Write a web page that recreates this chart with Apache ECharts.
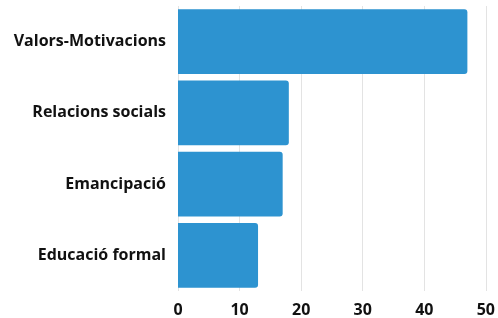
<!DOCTYPE html>
<html>
<head>
<meta charset="utf-8">
<script src="https://cdn.jsdelivr.net/npm/echarts@6/dist/echarts.min.js"></script>
<style>
    html, body { margin: 0; padding: 0; background: #fff; }
    #main { width: 498px; height: 318px; }
</style>
</head>
<body>
<div id="main"></div>
<script>
// 数据
var categories = ['Educació formal', 'Emancipació', 'Relacions socials', 'Valors-Motivacions']
var values = [13, 17, 18, 47]
var xTicks = [0, 10, 20, 30, 40, 50]

var myChart = echarts.init(document.getElementById('main'))

var option = {
    animation: false,
    grid: {
        left: 178,
        right: 10,
        top: 6,
        bottom: 26
    },
    xAxis: {
        type: 'value',
        min: xTicks[0],
        max: xTicks[xTicks.length - 1],
        interval: 10,
        axisLine: { show: false },
        axisTick: { show: false },
        axisLabel: {
            color: '#111',
            fontFamily: 'Open Sans',
            fontWeight: 'bold',
            fontSize: 16,
            margin: 11
        },
        splitLine: {
            lineStyle: { color: '#e3e3e3', width: 1 }
        }
    },
    yAxis: {
        type: 'category',
        data: categories,
        axisLine: { show: false },
        axisTick: { show: false },
        axisLabel: {
            color: '#111',
            fontFamily: 'Open Sans',
            fontWeight: 'bold',
            fontSize: 16,
            margin: 12
        }
    },
    series: [
        {
            type: 'bar',
            data: values,
            barCategoryGap: '9%',
            itemStyle: {
                color: '#2d93d0',
                borderRadius: [0, 3, 3, 0]
            }
        }
    ]
}
myChart.setOption(option)
</script>
</body>
</html>
